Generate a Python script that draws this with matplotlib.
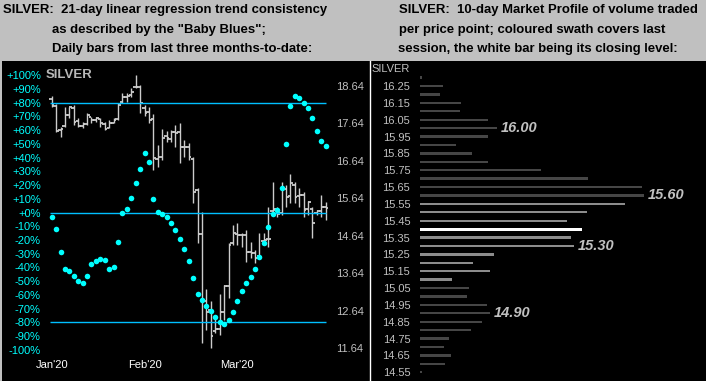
import matplotlib
matplotlib.use("Agg")
import matplotlib.pyplot as plt
from matplotlib.lines import Line2D
from matplotlib.patches import Rectangle

W, H = 706, 381

# daily OHLC bars (price, USD/oz)
opens = [18.30, 18.10, 17.45, 17.58, 17.85, 18.05, 17.70, 17.58, 17.62, 17.80,
         17.74, 17.76, 17.62, 17.52, 17.66, 17.75, 18.20, 18.34, 18.40, 18.60,
         18.62, 18.05, 17.93, 17.75, 16.70, 16.75, 17.30, 17.22, 17.40, 17.40,
         17.00, 17.02, 16.70, 15.85, 14.70, 12.90, 12.65, 12.10, 12.15, 12.60,
         13.30, 14.45, 14.70, 14.65, 14.66, 14.20, 14.18, 14.10, 14.50, 14.55,
         15.30, 15.35, 15.25, 15.90, 15.70, 16.00, 15.70, 15.72, 15.35, 15.35,
         15.25, 15.30, 15.40]
highs = [18.37, 18.15, 17.55, 18.08, 18.08, 18.13, 17.77, 17.68, 17.91, 17.82,
         17.82, 17.77, 17.68, 17.73, 17.77, 18.17, 18.44, 18.46, 18.57, 18.93,
         18.66, 18.13, 18.08, 17.89, 17.06, 17.49, 17.43, 17.46, 17.60, 17.65,
         17.20, 17.11, 16.74, 15.91, 15.28, 13.23, 12.91, 12.45, 13.09, 13.33,
         14.45, 14.93, 14.98, 14.72, 14.80, 14.48, 14.26, 14.72, 14.72, 15.41,
         16.08, 15.41, 16.08, 16.00, 16.29, 16.08, 15.91, 15.81, 15.57, 15.41,
         15.33, 15.73, 15.54]
lows = [18.07, 17.40, 17.28, 17.55, 17.77, 17.60, 17.53, 17.51, 17.60, 17.64,
        17.68, 17.55, 17.46, 17.51, 17.64, 17.73, 18.17, 18.22, 18.35, 18.57,
        17.91, 17.83, 17.65, 16.39, 16.47, 16.66, 17.14, 17.14, 17.01, 16.58,
        16.74, 16.66, 15.51, 14.44, 11.77, 12.13, 11.64, 12.05, 11.99, 12.40,
        12.98, 14.40, 14.40, 14.35, 13.95, 14.05, 13.91, 14.08, 14.45, 14.34,
        15.20, 15.14, 15.20, 15.41, 15.51, 15.51, 15.41, 15.14, 15.20, 14.58,
        15.20, 15.14, 15.06]
closes = [18.13, 17.44, 17.50, 17.86, 18.07, 17.68, 17.57, 17.61, 17.86, 17.73,
          17.77, 17.64, 17.49, 17.64, 17.73, 18.13, 18.35, 18.37, 18.47, 18.62,
          18.19, 17.91, 17.73, 16.71, 16.74, 17.25, 17.25, 17.41, 17.38, 17.01,
          17.01, 16.74, 15.81, 14.69, 12.93, 12.61, 11.97, 12.15, 12.61, 13.30,
          14.40, 14.72, 14.66, 14.66, 14.21, 14.18, 14.05, 14.08, 14.53, 14.55,
          15.33, 15.22, 15.94, 15.67, 16.05, 15.67, 15.73, 15.33, 15.54, 14.98,
          15.30, 15.41, 15.38]

# "Baby Blues": 21-day linear regression trend consistency (%)
baby_blues = [-3.5, -11.8, -28.5, -40.9, -42.4, -46.0, -50.1, -51.1, -46.0, -37.7,
              -35.1, -33.9, -34.4, -41.2, -39.7, -21.5, -0.1, 2.8, 10.8, 21.7,
              31.5, 43.6, 37.0, 10.1, 0.6, -0.9, -3.1, -7.4, -12.7, -19.3,
              -26.6, -35.1, -47.7, -59.1, -63.7, -68.1, -72.0, -76.1, -79.8, -81.0,
              -78.1, -72.5, -64.2, -57.2, -51.3, -47.0, -41.2, -32.4, -22.2, -10.3,
              -1.1, 1.8, 18.1, 49.9, 77.6, 85.1, 83.4, 80.0, 76.1, 68.8,
              59.6, 52.3, 48.4]

month_labels = ["Jan'20", "Feb'20", "Mar'20"]
month_idx = [0, 21, 42]
price_ticks = [18.64, 17.64, 16.64, 15.64, 14.64, 13.64, 12.64, 11.64]
pct_ticks = list(range(100, -101, -10))

# 10-day market profile
profile_levels = [16.30, 16.25, 16.20, 16.15, 16.10, 16.05, 16.00, 15.95, 15.90, 15.85,
                  15.80, 15.75, 15.70, 15.65, 15.60, 15.55, 15.50, 15.45, 15.40, 15.35,
                  15.30, 15.25, 15.20, 15.15, 15.10, 15.05, 15.00, 14.95, 14.90, 14.85,
                  14.80, 14.75, 14.70, 14.65, 14.60, 14.55]
profile_volume = [1.7, 22.7, 20, 41, 40, 68, 77, 68, 36, 52,
                  68, 121, 168, 222, 224, 205, 167, 147, 162, 151,
                  154, 74, 53, 70, 32, 49, 47, 67, 70, 62,
                  51, 29, 24, 31, 25, 2]
swath_levels = [15.55, 15.50, 15.45, 15.35, 15.30, 15.25, 15.20, 15.15, 15.10]
close_level = 15.40
profile_ticks = [16.25, 16.15, 16.05, 15.95, 15.85, 15.75, 15.65, 15.55, 15.45, 15.35,
                 15.25, 15.15, 15.05, 14.95, 14.85, 14.75, 14.65, 14.55]
profile_callouts = [16.00, 15.60, 15.30, 14.90]

GREY_BG = "#c0c0c0"
CYAN = "#00ffff"
LINE_BLUE = "#00bfff"
BAR_GREY = "#cccccc"
LABEL_GREY = "#c0c0c0"

plt.rcParams["font.family"] = ["Liberation Sans", "DejaVu Sans"]


def px_rect(x0, y0, x1, y1):
    return [x0 / W, 1 - y1 / H, (x1 - x0) / W, (y1 - y0) / H]


fig = plt.figure(figsize=(W / 100, H / 100), dpi=100, facecolor=GREY_BG)

# black chart area + white divider
fig.add_artist(Rectangle((2 / W, 0), 1 - 2 / W, 1 - 61 / H, transform=fig.transFigure,
                         facecolor="black", edgecolor="none", zorder=0))
fig.add_artist(Line2D([369.5 / W, 369.5 / W], [0, 1 - 61 / H], transform=fig.transFigure,
                      color="white", lw=1))

# titles
title_kw = dict(ha="left", va="center", fontsize=9.45, weight="bold")
fig.text(3 / W, 1 - 10 / H, "SILVER:  21-day linear regression trend consistency", **title_kw)
fig.text(52 / W, 1 - 30 / H, 'as described by the "Baby Blues";', **title_kw)
fig.text(52 / W, 1 - 49 / H, "Daily bars from last three months-to-date:", **title_kw)
fig.text(399 / W, 1 - 10 / H, "SILVER:  10-day Market Profile of volume traded", **title_kw)
fig.text(399 / W, 1 - 30 / H, "per price point; coloured swath covers last", **title_kw)
fig.text(398 / W, 1 - 49 / H, "session, the white bar being its closing level:", **title_kw)

# ---- left panel: price bars (host) + Baby Blues (twin)
ax = fig.add_axes(px_rect(45, 66, 333, 352))
ax.set_facecolor("none")
xs = list(range(len(closes)))
ax.vlines(xs, lows, highs, color=BAR_GREY, lw=1.0)
ax.hlines(opens, [x - 0.6 for x in xs], xs, color=BAR_GREY, lw=1.3)
ax.hlines(closes, xs, [x + 0.6 for x in xs], color=BAR_GREY, lw=1.3)
ax.set_xlim(-1.52, 63.64)
ax.set_ylim(11.541, 19.168)
ax.set_xticks(month_idx)
ax.set_xticklabels(month_labels)
ax.tick_params(axis="x", length=0, pad=6, colors="white", labelsize=8)

bx = ax.twinx()
ax.yaxis.tick_right()
ax.set_yticks(price_ticks)
ax.set_yticklabels([f"{p:.2f}" for p in price_ticks])
ax.tick_params(axis="y", length=0, pad=2, colors=LABEL_GREY, labelsize=8,
               labelleft=False, labelright=True)

bx.yaxis.tick_left()
bx.set_ylim(-101.6, 106.7)
bx.set_yticks(pct_ticks)
bx.set_yticklabels([f"{v:+d}%" for v in pct_ticks])
bx.tick_params(axis="y", length=0, pad=3, colors=CYAN, labelsize=8,
               labelleft=True, labelright=False)
bx.hlines([80, 0, -80], -0.4, len(closes) - 1, color=LINE_BLUE, lw=1)
bx.plot(xs, baby_blues, "o", ms=4.0, color=CYAN, mec="none", zorder=3)
bx.text(0.002, 100, "SILVER", transform=bx.get_yaxis_transform(), ha="left", va="center",
        color="#b8b8b8", fontsize=9.5, weight="bold")

for a in (ax, bx):
    for s in a.spines.values():
        s.set_visible(False)

# ---- right panel: market profile
px = fig.add_axes(px_rect(420, 66, 706, 381))
px.set_facecolor("none")
colors = []
for lv in profile_levels:
    if abs(lv - close_level) < 1e-6:
        colors.append("white")
    elif any(abs(lv - s) < 1e-6 for s in swath_levels):
        colors.append("#8c8c8c")
    else:
        colors.append("#464646")
heights = [0.018 if abs(lv - close_level) < 1e-6 else 0.014 for lv in profile_levels]
px.barh(profile_levels, profile_volume, height=heights, color=colors, align="center")
px.set_xlim(0, 286)
px.set_ylim(14.498, 16.369)
px.set_xticks([])
px.set_yticks(profile_ticks)
px.set_yticklabels([f"{p:.2f}" for p in profile_ticks])
px.tick_params(axis="y", length=0, pad=7, colors=LABEL_GREY, labelsize=8)
for s in px.spines.values():
    s.set_visible(False)
px.text(-10 / 286, 16.351, "SILVER", transform=px.get_yaxis_transform(), ha="right",
        va="center", color=LABEL_GREY, fontsize=8)
for lv in profile_callouts:
    k = min(range(len(profile_levels)), key=lambda j: abs(profile_levels[j] - lv))
    px.annotate(f"{lv:.2f}", (profile_volume[k], lv), xytext=(3, 0),
                textcoords="offset points", ha="left", va="center", color=LABEL_GREY,
                fontsize=10.5, weight="bold", style="italic")

fig.savefig("out.png", dpi=100, facecolor=GREY_BG)
